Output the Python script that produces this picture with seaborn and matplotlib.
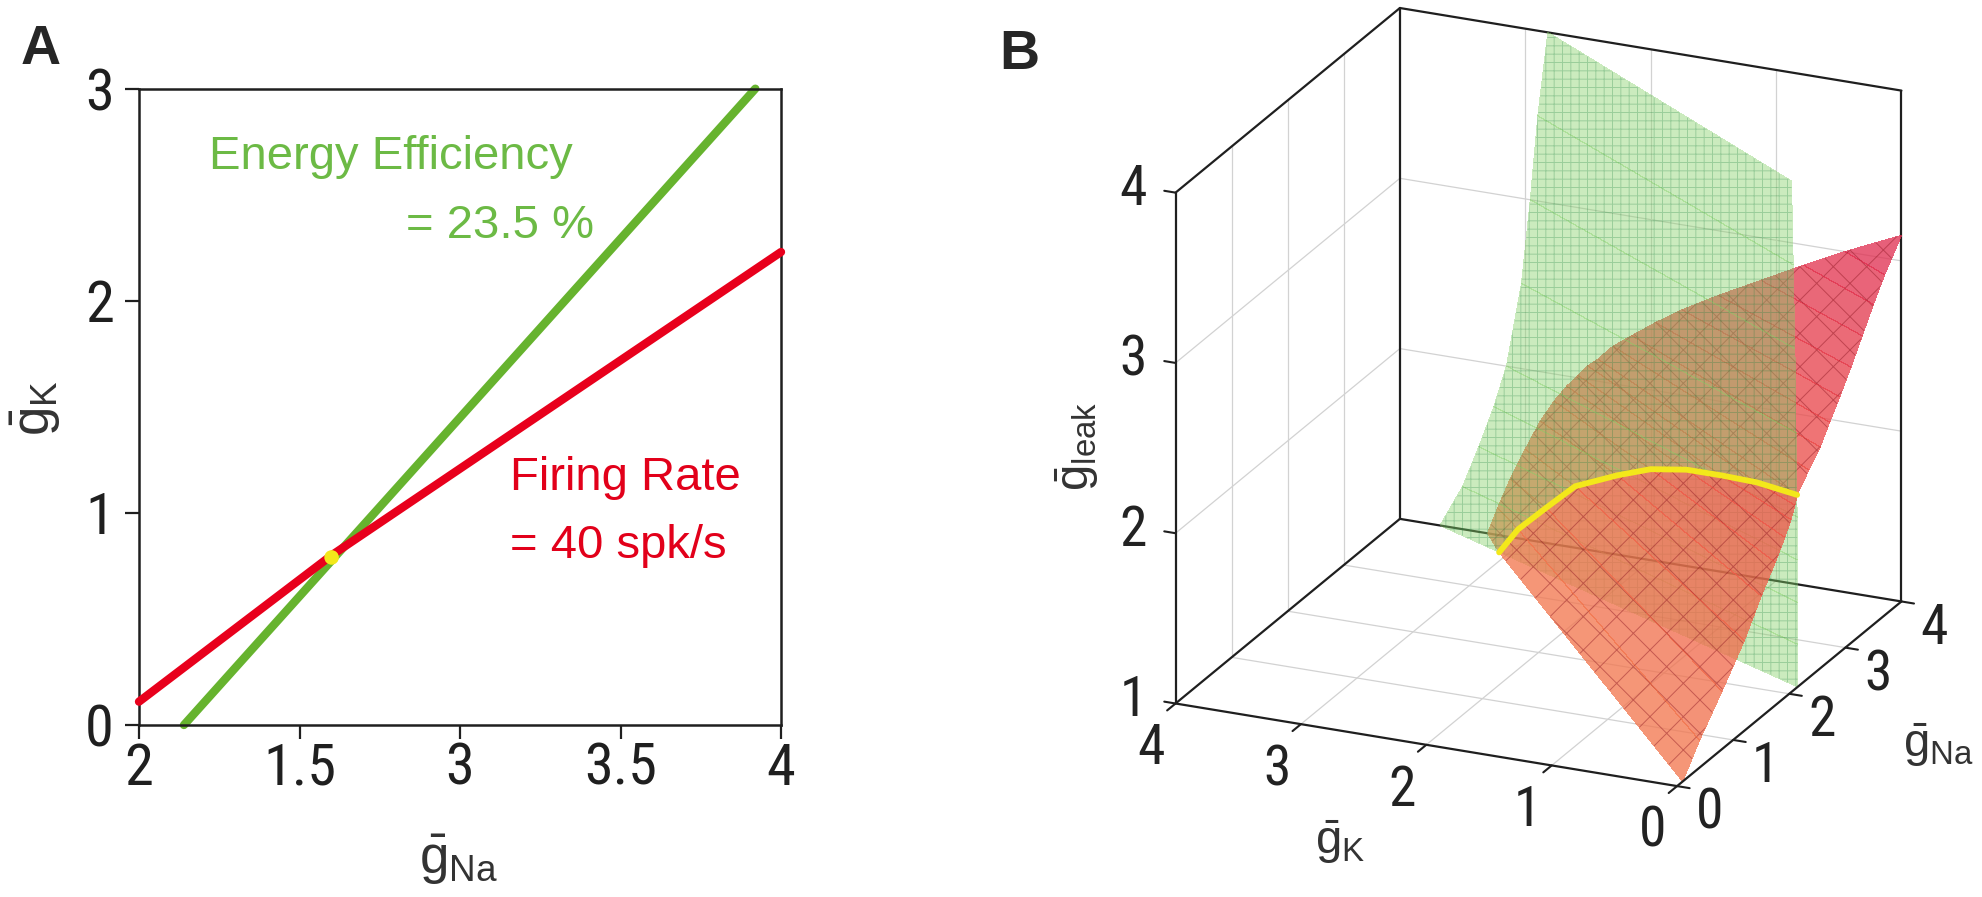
import numpy as np
import matplotlib
matplotlib.use("Agg")
import matplotlib.pyplot as plt
import seaborn as sns
from matplotlib import font_manager as fm
from matplotlib.colors import LinearSegmentedColormap
from mpl_toolkits.mplot3d import proj3d

# === Panel A: slice at fixed g_leak ===
a_xticks = [2.0, 2.5, 3.0, 3.5, 4.0]
a_xticklabels = ["2", "1.5", "3", "3.5", "4"]
a_yticks = [0, 1, 2, 3]
rate_gna = [2.0, 2.6, 4.0]
rate_gk = [0.11, 0.80, 2.23]
eff_gna = [2.14, 3.92]
eff_gk = [0.0, 3.0]
cross_gna = [2.6]
cross_gk = [0.79]

# === Panel B: iso-surfaces, one straight contour (gK=0 end -> gNa=4 end) per g_leak level ===
eff_leak = [1.0, 1.25, 1.5, 1.75, 2.0, 2.5, 3.0, 3.5, 4.0]
eff_gna_at_gk0 = [2.15, 2.15, 2.14, 2.14, 2.14, 2.12, 2.10, 2.07, 2.04]
eff_gk_at_gna4 = [3.68, 3.50, 3.37, 3.25, 3.15, 3.03, 2.96, 2.90, 2.82]

rate_leak = [1.0, 1.16, 1.34, 1.53, 1.71, 1.84, 1.94, 2.015, 2.08, 2.13,
             2.22, 2.3, 2.4, 2.5, 2.62, 2.75, 2.88, 3.0, 3.15]
rate_gna_at_gk0 = [0.1, 0.4, 0.8, 1.2, 1.5, 1.75, 1.92, 2.03, 2.1, 2.14,
                   2.35, 2.55, 2.72, 2.9, 3.1, 3.3, 3.5, 3.7, 4.0]
rate_gk_at_gna4 = [3.3, 3.22, 3.12, 3.0, 2.88, 2.77, 2.67, 2.58, 2.5, 2.42,
                   2.3, 2.15, 1.96, 1.75, 1.46, 1.12, 0.78, 0.45, 0.0]

# intersection curve (yellow), same g_leak levels as the first rate rows
cross_leak = [1.0, 1.16, 1.34, 1.53, 1.71, 1.84, 1.94, 2.015, 2.08, 2.13]
cross3d_gna = [3.69, 3.67, 3.59, 3.48, 3.25, 3.06, 2.85, 2.62, 2.40, 2.14]
cross3d_gk = [3.07, 2.91, 2.65, 2.37, 1.93, 1.58, 1.20, 0.82, 0.44, 0.0]

b_gk_ticks = [4, 3, 2, 1, 0]
b_gna_ticks = [0, 1, 2, 3, 4]
b_leak_ticks = [1, 2, 3, 4]

W, H, DPI = 1983, 897, 100
GREEN_LINE = "#66b32e"
GREEN_TXT = "#6cba45"
RED_LINE = "#e8001c"
RED_TXT = "#e2001a"
YELLOW = "#f3e81a"
INK = "#1f1f1f"
GRID = "#d2d2d2"

sns.set_theme(style="white")
plt.rcParams["font.family"] = ["Liberation Sans", "DejaVu Sans"]
plt.rcParams["mathtext.fontset"] = "custom"
plt.rcParams["mathtext.rm"] = "Liberation Sans"
plt.rcParams["mathtext.it"] = "Liberation Sans:italic"
plt.rcParams["mathtext.default"] = "regular"
plt.rcParams["hatch.linewidth"] = 0.7


def narrow_props(size):
    """Tick digits in the figure are tall and narrow: pick a condensed face if one exists."""
    entries = fm.fontManager.ttflist
    names = {f.name for f in entries}
    for fam in ("Liberation Sans Narrow", "Arial Narrow", "Roboto Condensed"):
        if fam in names:
            return fm.FontProperties(family=fam, size=size)
    for fam in ("Noto Sans", "DejaVu Sans", "Open Sans"):
        for f in entries:
            if (f.name == fam and str(f.stretch) in ("condensed", "semi-condensed")
                    and f.style == "normal" and f.weight in (400, "normal", "regular", "book")):
                return fm.FontProperties(fname=f.fname, size=size)
    return fm.FontProperties(family="Liberation Sans", size=size)


fig = plt.figure(figsize=(W / DPI, H / DPI), dpi=DPI)
fig.patch.set_facecolor("white")

# ---------------- Panel A ----------------
axA = fig.add_axes([139 / W, 1 - 725 / H, (781 - 139) / W, (725 - 88.7) / H])
sns.lineplot(x=rate_gna, y=rate_gk, ax=axA, color=RED_LINE, linewidth=6,
             sort=False, clip_on=False, solid_capstyle="round", zorder=3)
sns.lineplot(x=eff_gna, y=eff_gk, ax=axA, color=GREEN_LINE, linewidth=6,
             sort=False, clip_on=False, solid_capstyle="round", zorder=2)
sns.scatterplot(x=cross_gna, y=cross_gk, ax=axA, color=YELLOW, s=110,
                edgecolor="none", zorder=4, clip_on=False)
axA.set_xlim(2, 4)
axA.set_ylim(0, 3)
tick_fp = narrow_props(42)
axA.set_xticks(a_xticks)
axA.set_xticklabels(a_xticklabels, fontproperties=tick_fp)
axA.set_yticks(a_yticks)
axA.set_yticklabels([str(v) for v in a_yticks], fontproperties=tick_fp)
axA.tick_params(direction="out", length=10, width=1.6, colors=INK,
                bottom=True, left=True)
axA.tick_params(axis="x", pad=2)
axA.tick_params(axis="y", pad=8)
for sp in axA.spines.values():
    sp.set_visible(True)
    sp.set_color(INK)
    sp.set_linewidth(1.8)
axA.set_xlabel("")
axA.set_ylabel("")
axA.text(2.218, 2.678, "Energy Efficiency", color=GREEN_TXT, fontsize=34,
         ha="left", va="center")
axA.text(3.416, 2.353, "= 23.5 %", color=GREEN_TXT, fontsize=34,
         ha="right", va="center")
axA.text(3.155, 1.166, "Firing Rate", color=RED_TXT, fontsize=34,
         ha="left", va="center")
axA.text(3.155, 0.844, "= 40 spk/s", color=RED_TXT, fontsize=34,
         ha="left", va="center")
fig.text(459 / W, 1 - 860 / H, r"$\bar{g}_{Na}$", fontsize=38, ha="center",
         va="center", color="#333333")
fig.text(36 / W, 1 - 408 / H, r"$\bar{g}_{K}$", fontsize=38, ha="center",
         va="center", rotation=90, color="#333333")
fig.text(41 / W, 1 - 50 / H, "A", fontsize=40, fontweight="bold",
         ha="center", va="center")
fig.text(1019 / W, 1 - 55 / H, "B", fontsize=40, fontweight="bold",
         ha="center", va="center")

# ---------------- Panel B ----------------
axB = fig.add_axes([0.52, 0.0, 0.48, 1.0], projection="3d")
axB.computed_zorder = False
axB.set_proj_type("ortho")
axB.set_box_aspect((1, 1, 1))
try:
    axB.set_xlim(4, 0, view_margin=0)
    axB.set_ylim(0, 4, view_margin=0)
    axB.set_zlim(1, 4, view_margin=0)
except TypeError:
    axB.set_xlim(4, 0)
    axB.set_ylim(0, 4)
    axB.set_zlim(1, 4)
axB.view_init(elev=21.6, azim=-65.9)
axB.set_xticks([])
axB.set_yticks([])
axB.set_zticks([])
axB.set_axis_off()

# grid on the three back faces (floor, gK=4 wall, gNa=4 wall)
for v in b_gk_ticks[1:-1]:
    axB.plot([v, v], [0, 4], [1, 1], color=GRID, lw=0.9, zorder=0)
    axB.plot([v, v], [4, 4], [1, 4], color=GRID, lw=0.9, zorder=0)
for w in b_gna_ticks[1:-1]:
    axB.plot([4, 0], [w, w], [1, 1], color=GRID, lw=0.9, zorder=0)
    axB.plot([4, 4], [w, w], [1, 4], color=GRID, lw=0.9, zorder=0)
for t in b_leak_ticks[1:-1]:
    axB.plot([4, 4], [0, 4], [t, t], color=GRID, lw=0.9, zorder=0)
    axB.plot([4, 0], [4, 4], [t, t], color=GRID, lw=0.9, zorder=0)

# green surface (energy efficiency)
ng = len(eff_leak)
gX = np.column_stack([np.zeros(ng), eff_gk_at_gna4])
gY = np.column_stack([eff_gna_at_gk0, np.full(ng, 4.0)])
gZ = np.column_stack([eff_leak, eff_leak])
gface = np.zeros(gZ.shape + (4,))
gface[:] = (0.52, 0.82, 0.40, 0.42)

# red surface (firing rate), split along the yellow intersection curve
nr = len(rate_leak)
nc = len(cross_leak)
red_cmap = LinearSegmentedColormap.from_list(
    "rate", [(0.95, 0.46, 0.30), (0.93, 0.32, 0.28), (0.87, 0.16, 0.32)])


def red_face(Z):
    fc = red_cmap((Z - 1.0) / (3.15 - 1.0))
    fc[..., 3] = 0.76
    return fc


rf_X = np.column_stack([np.zeros(nc), cross3d_gk])
rf_Y = np.column_stack([rate_gna_at_gk0[:nc], cross3d_gna])
rf_Z = np.column_stack([cross_leak, cross_leak])

start_gk = np.concatenate([cross3d_gk, np.zeros(nr - nc)])
start_gna = np.concatenate([cross3d_gna, rate_gna_at_gk0[nc:]])
rb_X = np.column_stack([start_gk, rate_gk_at_gna4])
rb_Y = np.column_stack([start_gna, np.full(nr, 4.0)])
rb_Z = np.column_stack([rate_leak, rate_leak])

box = [((4, 4, 1), (0, 4, 1)), ((4, 4, 1), (4, 0, 1)), ((4, 4, 1), (4, 4, 4)),
       ((4, 4, 4), (0, 4, 4)), ((4, 4, 4), (4, 0, 4)), ((0, 4, 4), (0, 4, 1))]
front = [((4, 0, 1), (4, 0, 4)), ((4, 0, 1), (0, 0, 1)), ((0, 0, 1), (0, 4, 1))]
for p, q in box:
    axB.plot([p[0], q[0]], [p[1], q[1]], [p[2], q[2]], color=INK, lw=1.6, zorder=1)

RED_MESH = (0.55, 0.08, 0.12, 0.45)
GREEN_MESH = (0.10, 0.50, 0.25, 0.28)
axB.plot_surface(rb_X, rb_Y, rb_Z, facecolors=red_face(rb_Z), shade=False, linewidth=0,
                 antialiased=False, rstride=1, cstride=1, hatch="x",
                 edgecolor=RED_MESH, zorder=2)
axB.plot_surface(gX, gY, gZ, facecolors=gface, shade=False, linewidth=0,
                 antialiased=False, rstride=1, cstride=1, hatch="++",
                 edgecolor=GREEN_MESH, zorder=3)
axB.plot_surface(rf_X, rf_Y, rf_Z, facecolors=red_face(rf_Z), shade=False, linewidth=0,
                 antialiased=False, rstride=1, cstride=1, hatch="x",
                 edgecolor=RED_MESH, zorder=4)
axB.plot(cross3d_gk, cross3d_gna, cross_leak, color=YELLOW, lw=4.2, zorder=5,
         solid_capstyle="round")

for p, q in front:
    axB.plot([p[0], q[0]], [p[1], q[1]], [p[2], q[2]], color=INK, lw=1.6, zorder=6)

# tick marks
for v in b_gk_ticks:
    axB.plot([v, v], [0, -0.15], [1, 1], color=INK, lw=1.5, zorder=6)
for w in b_gna_ticks:
    axB.plot([0, -0.1], [w, w], [1, 1], color=INK, lw=1.5, zorder=6)
for t in b_leak_ticks:
    axB.plot([4, 4.09], [0, 0], [t, t], color=INK, lw=1.5, zorder=6)

fig.text(1077 / W, 1 - 446 / H, r"$\bar{g}_{leak}$", fontsize=34, ha="center",
         va="center", rotation=90, color="#333333")
fig.text(1340 / W, 1 - 842 / H, r"$\bar{g}_{K}$", fontsize=34, ha="center",
         va="center", color="#333333")
fig.text(1938 / W, 1 - 745 / H, r"$\bar{g}_{Na}$", fontsize=34, ha="center",
         va="center", color="#333333")

# fit the projected cube onto the reference frame position
fig.canvas.draw()


def project(pts):
    pts = np.asarray(pts, float)
    xs, ys, _ = proj3d.proj_transform(pts[:, 0], pts[:, 1], pts[:, 2], axB.get_proj())
    return axB.transData.transform(np.column_stack([xs, ys]))


corners = [[a, b, c] for a in (0, 4) for b in (0, 4) for c in (1, 4)]
px = project(corners)
tgt_l, tgt_r, tgt_b, tgt_t = 1175, 1902, H - 785.5, H - 8.6
mw = px[:, 0].max() - px[:, 0].min()
mh = px[:, 1].max() - px[:, 1].min()
scale = 0.5 * ((tgt_r - tgt_l) / mw + (tgt_t - tgt_b) / mh)
bb = axB.get_window_extent()
cx, cy = (bb.x0 + bb.x1) / 2, (bb.y0 + bb.y1) / 2
mcx = (px[:, 0].max() + px[:, 0].min()) / 2
mcy = (px[:, 1].max() + px[:, 1].min()) / 2
ncx = (tgt_l + tgt_r) / 2 - scale * (mcx - cx)
ncy = (tgt_b + tgt_t) / 2 - scale * (mcy - cy)
pos = axB.get_position(original=True)
nw, nh = pos.width * scale, pos.height * scale
axB.set_position([ncx / W - nw / 2, ncy / H - nh / 2, nw, nh])
fig.canvas.draw()

# tick labels of panel B, placed next to their ticks in the projected frame
b_fp = narrow_props(40)
label_pts = ([(v, -0.43, 0.85, str(v)) for v in b_gk_ticks]
             + [(-0.26, w, 0.873, str(w)) for w in b_gna_ticks]
             + [(4.34, 0, t - 0.024, str(t)) for t in b_leak_ticks])
lp = project([p[:3] for p in label_pts])
for (x, y), p in zip(lp, label_pts):
    fig.text(x / W, y / H, p[3], fontproperties=b_fp, ha="center", va="center",
             color="#222222")

fig.savefig("out.png", dpi=DPI)
